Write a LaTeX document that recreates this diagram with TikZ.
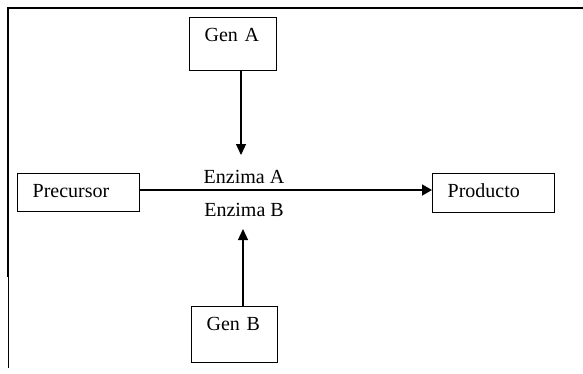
\documentclass[tikz,border=0pt]{standalone}
\usepackage{fontspec}
\setmainfont{Liberation Serif}
\usetikzlibrary{arrows.meta,calc}
\begin{document}
\begin{tikzpicture}[x=1pt,y=-1pt,
  box/.style={draw,line width=1.3pt,rectangle,anchor=north west,align=left,
    inner xsep=15pt,inner ysep=10pt,text height=14pt,
    font=\fontsize{20}{24}\selectfont},
  lbl/.style={anchor=base,inner sep=0pt,font=\fontsize{20}{24}\selectfont},
  frame/.style={line width=2pt},
  conn/.style={line width=1.2pt,-{Triangle[length=11pt,width=10pt]}},
  mainconn/.style={line width=1.8pt,-{Triangle[length=10pt,width=11pt]}}]
\useasboundingbox (0,0) rectangle (583,373);
% frame
\draw[frame] (583,8) -- (8,8) -- (8,277);
\draw[line width=1pt] (8,277) -- (8,368);
% boxes
\node[box,minimum width=87pt,text width=57pt,text depth=19pt] (genA) at (189,17) {Gen A};
\node[box,minimum width=86pt,text width=56pt,text depth=22pt] (genB) at (191,306) {Gen B};
\node[box,minimum width=122pt,text width=92pt,text depth=4pt] (prec) at (17,173) {Precursor};
\node[box,minimum width=122pt,text width=92pt,text depth=5pt] (prod) at (432,173) {Producto};
% enzyme labels
\node[lbl] (enzA) at (244,183) {Enzima A};
\node[lbl] (enzB) at (244,216) {Enzima B};
% connectors
\coordinate (tipA) at (241,155);
\coordinate (tipB) at (243,229);
\draw[conn] (genA.south -| tipA) -- (tipA);
\draw[conn] (genB.north -| tipB) -- (tipB);
\coordinate (hl) at (0,190);
\draw[mainconn] (prec.east |- hl) -- (prod.west |- hl);
\end{tikzpicture}
\end{document}
